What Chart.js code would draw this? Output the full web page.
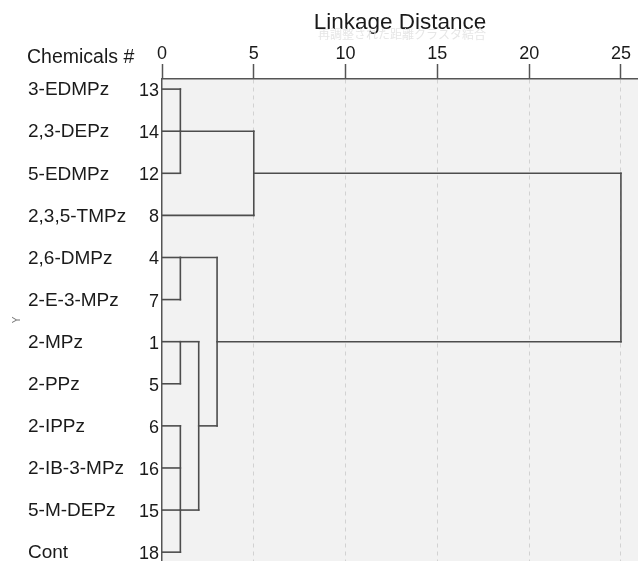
<!DOCTYPE html>
<html>
<head>
<meta charset="utf-8">
<script src="https://cdn.jsdelivr.net/npm/chart.js@4.4.1/dist/chart.umd.min.js"></script>
<style>
 body { margin: 0; background: #fff; }
 #wrap { width: 638px; height: 561px; }
</style>
</head>
<body>
<div id="wrap"><canvas id="dendro" width="638" height="561"></canvas></div>
<script>
// leaves, top to bottom
const chemicals = ["3-EDMPz", "2,3-DEPz", "5-EDMPz", "2,3,5-TMPz", "2,6-DMPz", "2-E-3-MPz",
 "2-MPz", "2-PPz", "2-IPPz", "2-IB-3-MPz", "5-M-DEPz", "Cont"]
const leafIds = [13, 14, 12, 8, 4, 7, 1, 5, 6, 16, 15, 18]

// cluster joins (rescaled distance), and the leaf row the stem leaves from
const mergeNames = ["A", "A8", "B", "C", "D", "CD", "BCD", "All"]
const mergeMembers = [[13, 14, 12], ["A", 8], [4, 7], [1, 5], [6, 16, 15, 18], ["C", "D"], ["B", "CD"], ["A8", "BCD"]]
const mergeDistances = [1, 5, 1, 1, 1, 2, 3, 25]
const mergeStems = [14, 12, 4, 1, 15, 6, 1, null]

const xTicks = [0, 5, 10, 15, 20, 25]

const lineColor = "#4d4d4d"

// build the elbow segments from the joins
const nodes = {}
leafIds.forEach((id, i) => nodes[id] = { row: i, h: 0 })
const segments = []
mergeNames.forEach((name, m) => {
 const d = mergeDistances[m]
 const kids = mergeMembers[m].map(k => nodes[k])
 const rows = kids.map(k => k.row)
 kids.forEach(k => segments.push([{ x: k.h, y: k.row }, { x: d, y: k.row }]))
 segments.push([{ x: d, y: Math.min(...rows) }, { x: d, y: Math.max(...rows) }])
 const stem = mergeStems[m]
 nodes[name] = { row: stem === null ? Math.min(...rows) : leafIds.indexOf(stem), h: d }
})

const datasets = segments.map(s => ({
 data: s,
 showLine: true,
 borderColor: lineColor,
 borderWidth: 1.6,
 borderCapStyle: "square",
 pointRadius: 0,
 fill: false
}))

const extras = {
 id: "extras",
 beforeDraw(chart) {
  const { ctx, chartArea: a } = chart
  ctx.save()
  ctx.fillStyle = "#f2f2f2"
  ctx.fillRect(a.left, a.top, a.right - a.left, a.bottom - a.top)
  ctx.restore()
 },
 afterDraw(chart) {
  const { ctx } = chart
  const y = chart.scales.y
  ctx.save()
  ctx.fillStyle = "#1a1a1a"
  ctx.font = "19px 'Liberation Sans', Arial, sans-serif"
  ctx.textAlign = "left"
  ctx.textBaseline = "middle"
  chemicals.forEach((c, i) => ctx.fillText(c, 28, y.getPixelForValue(i) + 1))
  ctx.font = "19.5px 'Liberation Sans', Arial, sans-serif"
  ctx.fillText("Chemicals #", 27, 58)
  ctx.fillStyle = "#e6e6e6"
  ctx.font = "12px 'Noto Sans CJK JP', sans-serif"
  ctx.textAlign = "center"
  ctx.fillText("再調整された距離クラスタ結合", 402, 34)
  ctx.restore()
 }
}

Chart.defaults.font.family = "'Liberation Sans', Arial, sans-serif"

new Chart(document.getElementById("dendro"), {
 type: "scatter",
 data: { datasets },
 options: {
  responsive: false,
  animation: false,
  layout: { padding: 0 },
  plugins: { legend: { display: false }, tooltip: { enabled: false } },
  scales: {
   x: {
    type: "linear",
    position: "top",
    min: 0,
    max: 25.93,
    afterBuildTicks: s => { s.ticks = xTicks.map(v => ({ value: v })) },
    afterFit: s => { s.height = 79; s.paddingLeft = 0; s.paddingRight = 0 },
    ticks: { color: "#1a1a1a", font: { size: 18 }, padding: -1, maxRotation: 0 },
    grid: {
     color: c => c.tick && c.tick.value === 0 ? "rgba(0,0,0,0)" : "#d2d2d2",
     lineWidth: 1,
     tickColor: "#555",
     tickLength: 15,
     tickWidth: 1.5,
     tickBorderDash: []
    },
    border: { display: true, color: "#555", width: 1.5, dash: [4, 4] },
    title: {
     display: true,
     text: "Linkage Distance",
     color: "#1a1a1a",
     font: { size: 22.5 },
     padding: { top: 9, bottom: 0 }
    }
   },
   y: {
    type: "linear",
    reverse: true,
    min: -0.24,
    max: 11.21,
    afterBuildTicks: s => { s.ticks = leafIds.map((id, i) => ({ value: i })) },
    afterFit: s => { s.width = 162; s.paddingTop = 0; s.paddingBottom = 0 },
    ticks: {
     color: "#1a1a1a",
     font: { size: 18 },
     padding: 3,
     labelOffset: 2,
     callback: v => leafIds[v]
    },
    grid: { display: false, drawTicks: false },
    border: { display: true, color: "#555", width: 1.5 },
    title: {
     display: true,
     text: "Y",
     color: "#777",
     font: { size: 10 },
     padding: { top: 11, bottom: 0 }
    }
   }
  }
 },
 plugins: [extras]
})
</script>
</body>
</html>
